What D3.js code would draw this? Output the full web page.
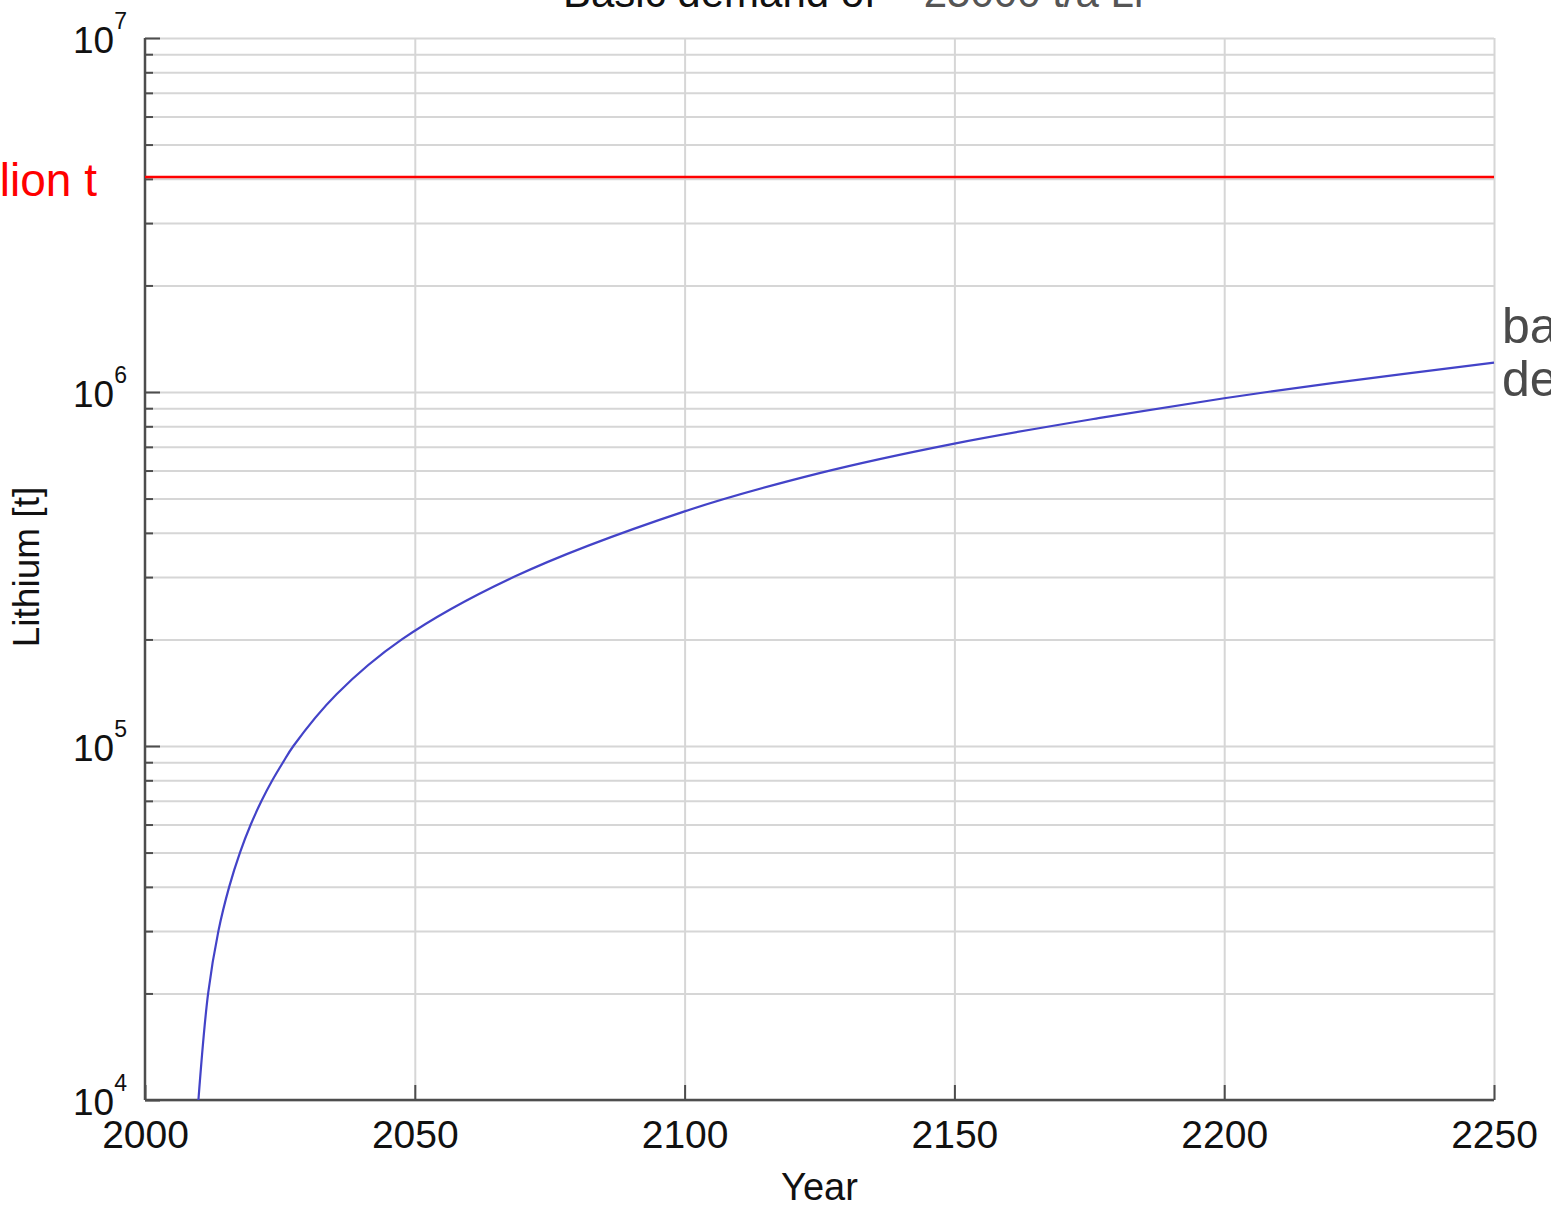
<!DOCTYPE html>
<html>
<head>
<meta charset="utf-8">
<script src="https://cdn.jsdelivr.net/npm/d3@7"></script>
<style>
  html, body { margin: 0; padding: 0; background: #fff; overflow: hidden; }
  svg { display: block; font-family: "Liberation Sans", Arial, sans-serif; }
  .grid line { stroke: #d6d6d6; stroke-width: 2; }
  .grid path { display: none; }
  .ticks line { stroke: #4d4d4d; stroke-width: 2; }
  .ticks path { display: none; }
  .xlab text { font-size: 39px; fill: #111; }
  .xlab path { display: none; }
</style>
</head>
<body>
<svg id="chart" width="1551" height="1209"></svg>
<script>
// cumulative lithium demand (mostly where it crosses grid lines)
const years = [2009.9, 2011.7, 2013.6, 2015.6, 2017.6, 2019.6, 2021.6, 2023.6, 2025.6, 2027.5,
  2035.5, 2047.6, 2068.3, 2100, 2125, 2150, 2177, 2200, 2220, 2250];
const demand = [1e4, 2e4, 3e4, 4e4, 5e4, 6e4, 7e4, 8e4, 9e4, 1e5,
  1.4e5, 2e5, 3e5, 4.6e5, 5.9e5, 7.15e5, 8.45e5, 9.6e5, 1.06e6, 1.21e6];
const reserves = 4.05e6;

const xTicks = [2000, 2050, 2100, 2150, 2200, 2250];
const yDecades = [1e4, 1e5, 1e6, 1e7];
const yExponents = ['4', '5', '6', '7'];

const margin = {left: 145, right: 1494, top: 38, bottom: 1100};

const svg = d3.select('#chart');

const x = d3.scaleLinear().domain([2000, 2250]).range([margin.left, margin.right]);
const y = d3.scaleLog().domain([1e4, 1e7]).range([margin.bottom, margin.top]);

// all grid values: 1..9 times each decade
const gridVals = [];
yDecades.slice(0, 3).forEach(d => {
  for (let k = 1; k < 10; k++) gridVals.push(d * k);
});
gridVals.push(1e7);
const minorVals = gridVals.filter(v => yDecades.indexOf(v) < 0);

// horizontal grid
svg.append('g')
  .attr('class', 'grid')
  .attr('transform', `translate(${margin.left},0)`)
  .call(d3.axisRight(y).tickValues(gridVals).tickSize(margin.right - margin.left).tickFormat(''));

// vertical grid
svg.append('g')
  .attr('class', 'grid')
  .attr('transform', `translate(0,${margin.top})`)
  .call(d3.axisBottom(x).tickValues(xTicks.slice(1)).tickSize(margin.bottom - margin.top).tickFormat(''));

// inward ticks on the y axis
svg.append('g')
  .attr('class', 'ticks')
  .attr('transform', `translate(${margin.left},0)`)
  .call(d3.axisRight(y).tickValues(yDecades).tickSize(15).tickFormat(''));
svg.append('g')
  .attr('class', 'ticks')
  .attr('transform', `translate(${margin.left},0)`)
  .call(d3.axisRight(y).tickValues(minorVals).tickSize(8).tickFormat(''));

// inward ticks on the x axis
svg.append('g')
  .attr('class', 'ticks')
  .attr('transform', `translate(0,${margin.bottom})`)
  .call(d3.axisTop(x).tickValues(xTicks).tickSize(15).tickFormat(''));

// axis lines
svg.append('line')
  .attr('x1', margin.left).attr('x2', margin.left).attr('y1', margin.top).attr('y2', margin.bottom)
  .attr('stroke', '#4d4d4d').attr('stroke-width', 2.5);
svg.append('line')
  .attr('x1', margin.left).attr('x2', margin.right).attr('y1', margin.bottom).attr('y2', margin.bottom)
  .attr('stroke', '#4d4d4d').attr('stroke-width', 2.5);

// x tick labels
svg.append('g')
  .attr('class', 'xlab')
  .attr('transform', `translate(0,${margin.bottom})`)
  .call(d3.axisBottom(x).tickValues(xTicks).tickSize(0).tickPadding(20).tickFormat(d3.format('d')))
  .attr('font-family', null)
  .attr('font-size', null);

// y tick labels as 10^n
const ylab = svg.append('g').selectAll('text')
  .data(yDecades)
  .enter().append('text')
  .attr('x', 73)
  .attr('y', d => y(d) + 15)
  .attr('fill', '#111');
ylab.append('tspan').attr('font-size', 37).text('10');
ylab.append('tspan').attr('font-size', 23).attr('dy', -24).text((d, i) => yExponents[i]);

// reserves line
svg.append('line')
  .attr('x1', margin.left).attr('x2', margin.right)
  .attr('y1', y(reserves)).attr('y2', y(reserves))
  .attr('stroke', '#ff0000').attr('stroke-width', 2.5);

svg.append('text')
  .attr('x', 97).attr('y', y(reserves) + 19)
  .attr('text-anchor', 'end')
  .attr('font-size', 46)
  .attr('fill', '#ff0000')
  .text('4 million t');

// demand curve
const line = d3.line()
  .x((d, i) => x(years[i]))
  .y(d => y(d))
  .curve(d3.curveCatmullRom.alpha(0.5));

svg.append('path')
  .attr('d', line(demand))
  .attr('fill', 'none')
  .attr('stroke', '#4343c8')
  .attr('stroke-width', 2.2);

// right label
const rl = svg.append('text')
  .attr('x', 1502)
  .attr('font-size', 50)
  .attr('fill', '#4a4a4a');
rl.append('tspan').attr('x', 1502).attr('y', 343).text('basic');
rl.append('tspan').attr('x', 1502).attr('y', 396).text('demand');

// title (cut off at top)
const title = svg.append('text')
  .attr('x', 563).attr('y', 7)
  .attr('font-size', 42);
title.append('tspan').attr('fill', '#111').text('Basic demand of ');
title.append('tspan').attr('fill', '#555').text('~ 25000 t/a Li');

// axis titles
svg.append('text')
  .attr('x', (margin.left + margin.right) / 2).attr('y', 1200)
  .attr('text-anchor', 'middle')
  .attr('font-size', 38)
  .attr('fill', '#111')
  .text('Year');

svg.append('text')
  .attr('transform', 'translate(39,567) rotate(-90)')
  .attr('text-anchor', 'middle')
  .attr('font-size', 37)
  .attr('fill', '#111')
  .text('Lithium [t]');
</script>
</body>
</html>
